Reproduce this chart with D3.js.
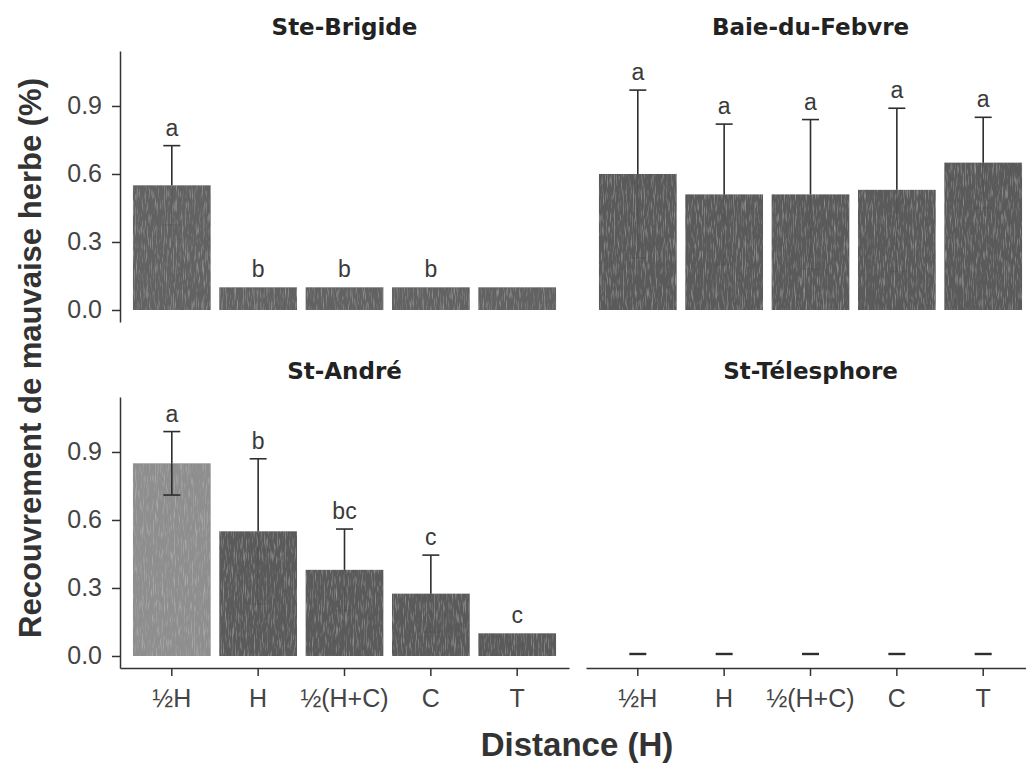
<!doctype html>
<html>
<head>
<meta charset="utf-8">
<script src="https://d3js.org/d3.v7.min.js"></script>
<style>
    html,body{
        margin: 0;
        background: #fff;
        overflow: hidden;
    }
    .tick text { font-family: "Liberation Sans", Arial, sans-serif; }
</style>
</head>
<body>
<script>
// data
var categories = ["½H", "H", "½(H+C)", "C", "T"];
var sites = ["Ste-Brigide", "Baie-du-Febvre", "St-André", "St-Télesphore"];

var meanBrigide   = [0.55, 0.10, 0.10, 0.10, 0.10];
var errBrigide    = [0.175, 0, 0, 0, 0];
var letBrigide    = ["a", "b", "b", "b", ""];

var meanBaie      = [0.60, 0.51, 0.51, 0.53, 0.65];
var errBaie       = [0.37, 0.31, 0.33, 0.36, 0.20];
var letBaie       = ["a", "a", "a", "a", "a"];

var meanAndre     = [0.85, 0.55, 0.38, 0.275, 0.10];
var errAndre      = [0.14, 0.32, 0.18, 0.17, 0];
var letAndre      = ["a", "b", "bc", "c", "c"];

var meanTeles     = [0, 0, 0, 0, 0];
var errTeles      = [0, 0, 0, 0, 0];
var letTeles      = ["", "", "", "", ""];

var yTicks = [0, 0.3, 0.6, 0.9];

(function(){
    var w = 1026, h = 766;

    var panels = [
        {site: sites[0], mean: meanBrigide, err: errBrigide, lab: letBrigide, col: 0, row: 0},
        {site: sites[1], mean: meanBaie,    err: errBaie,    lab: letBaie,    col: 1, row: 0},
        {site: sites[2], mean: meanAndre,   err: errAndre,   lab: letAndre,   col: 0, row: 1},
        {site: sites[3], mean: meanTeles,   err: errTeles,   lab: letTeles,   col: 1, row: 1}
    ];

    var colRange = [[120, 569], [586, 1035]],
        rowRange = [[322, 51], [668, 397]];

    var svg = d3.select("body").append("svg")
        .attr("width", w)
        .attr("height", h);

    // grainy fill like the scanned bars
    var defs = svg.append("defs");
    var f = defs.append("filter").attr("id", "grain")
        .attr("x", 0).attr("y", 0).attr("width", 1).attr("height", 1);
    f.append("feTurbulence").attr("type", "fractalNoise")
        .attr("baseFrequency", "0.9 0.08").attr("numOctaves", 2).attr("seed", 4).attr("result", "n");
    f.append("feColorMatrix").attr("in", "n").attr("type", "matrix")
        .attr("values", "0 0 0 0 1  0 0 0 0 1  0 0 0 0 1  1.4 0 0 0 -0.72").attr("result", "spots");
    f.append("feComposite").attr("in", "spots").attr("in2", "SourceGraphic").attr("operator", "in").attr("result", "s2");
    f.append("feComponentTransfer").attr("in", "s2").attr("result", "s3")
        .append("feFuncA").attr("type", "linear").attr("slope", 0.4);
    var m = f.append("feMerge");
    m.append("feMergeNode").attr("in", "SourceGraphic");
    m.append("feMergeNode").attr("in", "s3");

    function lightBar(site, i){
        return site === "St-André" && i === 0;
    }
    function barFill(site, i){
        if (lightBar(site, i)) return "#8e8e8e";
        if (site === "Ste-Brigide") return "#626262";
        return "#5a5a5a";
    }

    panels.forEach(function(p){
        var x = d3.scaleBand().domain(categories).range(colRange[p.col])
            .paddingInner(0.1).paddingOuter(0.15);
        var y = d3.scaleLinear().domain([-0.053, 1.1425]).range(rowRange[p.row]);
        var g = svg.append("g");
        var cx = function(d){return x(d.cat) + x.bandwidth()/2;};

        var rows = categories.map(function(c, i){
            return {cat: c, mean: p.mean[i], err: p.err[i], lab: p.lab[i], i: i};
        });

        g.selectAll("rect.bar").data(rows.filter(function(d){return d.mean > 0;}))
            .enter().append("rect")
            .attr("class", "bar")
            .attr("x", function(d){return x(d.cat);})
            .attr("width", x.bandwidth())
            .attr("y", function(d){return y(d.mean);})
            .attr("height", function(d){return y(0) - y(d.mean);})
            .attr("fill", function(d){return barFill(p.site, d.i);})
            .attr("filter", "url(#grain)");

        var cap = 8.5;
        var eb = g.selectAll("g.eb").data(rows).enter().append("g")
            .attr("class", "eb")
            .attr("stroke", "#2e2e2e")
            .attr("stroke-width", function(d){return d.mean > 0 ? 1.6 : 2.4;});
        // upper half
        eb.filter(function(d){return d.err > 0;}).append("line")
            .attr("x1", cx).attr("x2", cx)
            .attr("y1", function(d){return y(d.mean);})
            .attr("y2", function(d){return y(d.mean + d.err);});
        eb.filter(function(d){return d.err > 0 || d.mean === 0;}).append("line")
            .attr("x1", function(d){return cx(d) - cap;})
            .attr("x2", function(d){return cx(d) + cap;})
            .attr("y1", function(d){return y(d.mean + d.err) - (d.mean === 0 ? 2 : 0);})
            .attr("y2", function(d){return y(d.mean + d.err) - (d.mean === 0 ? 2 : 0);});
        // lower half, mostly lost in the dark bars
        var low = eb.filter(function(d){return d.err > 0;}).append("g")
            .attr("stroke-opacity", function(d){return lightBar(p.site, d.i) ? 1 : 0.12;});
        low.append("line")
            .attr("x1", cx).attr("x2", cx)
            .attr("y1", function(d){return y(d.mean - d.err);})
            .attr("y2", function(d){return y(d.mean);});
        low.append("line")
            .attr("x1", function(d){return cx(d) - cap;})
            .attr("x2", function(d){return cx(d) + cap;})
            .attr("y1", function(d){return y(d.mean - d.err);})
            .attr("y2", function(d){return y(d.mean - d.err);});

        g.selectAll("text.lab").data(rows).enter().append("text")
            .attr("class", "lab")
            .attr("x", cx)
            .attr("y", function(d){return y(d.mean + d.err) - 10;})
            .attr("text-anchor", "middle")
            .style("font-family", "'Liberation Sans', Arial, sans-serif")
            .style("font-size", "23px")
            .attr("fill", "#3a3a3a")
            .text(function(d){return d.lab;});

        // facet title
        svg.append("text")
            .attr("x", (colRange[p.col][0] + colRange[p.col][1]) / 2)
            .attr("y", p.row === 0 ? 35 : 379)
            .attr("text-anchor", "middle")
            .style("font-family", "'DejaVu Sans', Verdana, sans-serif")
            .style("font-weight", "bold")
            .style("font-size", "23px")
            .attr("fill", "#222")
            .text(p.site);

        if (p.col === 0) {
            var ya = svg.append("g")
                .attr("transform", "translate(" + colRange[0][0] + ",0)")
                .call(d3.axisLeft(y).tickValues(yTicks).tickFormat(d3.format(".1f"))
                    .tickSize(8).tickSizeOuter(0).tickPadding(10));
            ya.selectAll("path,line").attr("stroke", "#333").attr("stroke-width", 1.5);
            ya.selectAll("text").style("font-size", "25px").attr("fill", "#444");
        }
        if (p.row === 1) {
            var xa = svg.append("g")
                .attr("transform", "translate(0," + rowRange[1][0] + ")")
                .call(d3.axisBottom(x).tickSize(8).tickSizeOuter(0).tickPadding(13));
            xa.selectAll("path,line").attr("stroke", "#333").attr("stroke-width", 1.5);
            xa.selectAll("text").style("font-size", "25px").attr("fill", "#444");
        }
    });

    // axis titles
    svg.append("text")
        .attr("transform", "translate(41,358) rotate(-90)")
        .attr("text-anchor", "middle")
        .style("font-family", "'Liberation Sans', Arial, sans-serif")
        .style("font-weight", "bold")
        .style("font-size", "31px")
        .attr("fill", "#333")
        .text("Recouvrement de mauvaise herbe (%)");

    svg.append("text")
        .attr("x", 577)
        .attr("y", 756)
        .attr("text-anchor", "middle")
        .style("font-family", "'Liberation Sans', Arial, sans-serif")
        .style("font-weight", "bold")
        .style("font-size", "33px")
        .attr("fill", "#333")
        .text("Distance (H)");
})();
</script>
</body>
</html>
